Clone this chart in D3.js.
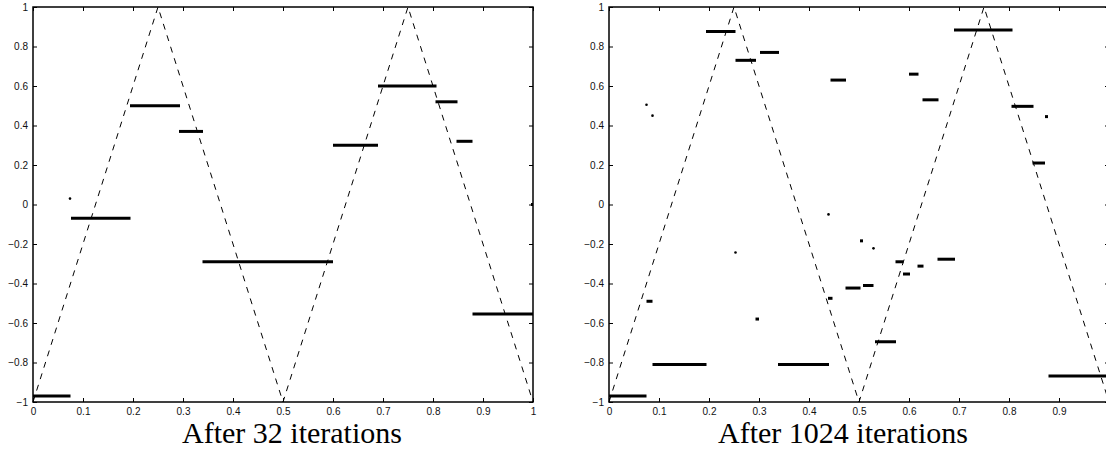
<!DOCTYPE html>
<html>
<head>
<meta charset="utf-8">
<script src="https://cdn.jsdelivr.net/npm/d3@7"></script>
<style>
  html, body { margin: 0; padding: 0; background: #fff; }
  svg { display: block; }
</style>
</head>
<body>
<svg id="chart" width="1106" height="451"></svg>
<script>
// ---- data ----
const xTicks1 = [0, 0.1, 0.2, 0.3, 0.4, 0.5, 0.6, 0.7, 0.8, 0.9, 1];
const xTicks2 = [0, 0.1, 0.2, 0.3, 0.4, 0.5, 0.6, 0.7, 0.8, 0.9];
const yTicks = [-1, -0.8, -0.6, -0.4, -0.2, 0, 0.2, 0.4, 0.6, 0.8, 1];

// dashed reference (triangle wave vertices)
const refX = [0, 0.25, 0.5, 0.75, 1];
const refY = [-1, 1, -1, 1, -1];

// panel 1: after 32 iterations
const p1Start = [0, 0.076, 0.194, 0.292, 0.339, 0.6, 0.69, 0.805, 0.847, 0.879, 0.996];
const p1End   = [0.075, 0.195, 0.294, 0.34, 0.6, 0.69, 0.807, 0.849, 0.879, 1.0, 1.0];
const p1Level = [-0.97, -0.07, 0.5, 0.37, -0.29, 0.30, 0.60, 0.52, 0.32, -0.555, 0.0];
const p1DotX = [0.074];
const p1DotY = [0.03];

// panel 2: after 1024 iterations
const p2Start = [0, 0.075, 0.087, 0.194, 0.253, 0.293, 0.302, 0.338, 0.438, 0.443, 0.473, 0.502, 0.508,
                 0.532, 0.573, 0.588, 0.6, 0.617, 0.627, 0.657, 0.69, 0.805, 0.847, 0.872, 0.879];
const p2End   = [0.075, 0.087, 0.195, 0.253, 0.294, 0.3, 0.34, 0.44, 0.447, 0.474, 0.503, 0.508, 0.529,
                 0.574, 0.589, 0.602, 0.619, 0.629, 0.659, 0.692, 0.807, 0.849, 0.872, 0.878, 1.0];
const p2Level = [-0.97, -0.49, -0.81, 0.876, 0.73, -0.58, 0.77, -0.81, -0.475, 0.63, -0.423, -0.184, -0.41,
                 -0.695, -0.29, -0.352, 0.66, -0.312, 0.53, -0.277, 0.883, 0.497, 0.21, 0.445, -0.868];
const p2DotX = [0.075, 0.087, 0.439, 0.253, 0.529];
const p2DotY = [0.505, 0.45, -0.05, -0.243, -0.222];

const titles = ["After 32 iterations", "After 1024 iterations"];

// ---- drawing ----
const svg = d3.select("#chart");
const fmt = v => (v === 0 ? "0" : d3.format("")(v)).replace("-", "\u2212");

const panels = [
  { x0: 33, x1: 533, xt: xTicks1, start: p1Start, end: p1End, level: p1Level, dx: p1DotX, dy: p1DotY, title: titles[0], tx: 182 },
  { x0: 609, x1: 1109, xt: xTicks2, start: p2Start, end: p2End, level: p2Level, dx: p2DotX, dy: p2DotY, title: titles[1], tx: 718 }
];

panels.forEach(p => {
  const x = d3.scaleLinear().domain([0, 1]).range([p.x0, p.x1]);
  const y = d3.scaleLinear().domain([-1, 1]).range([402, 7]);
  const g = svg.append("g");

  // dashed triangle wave
  const line = d3.line().x((d, i) => x(refX[i])).y((d, i) => y(refY[i]));
  g.append("path")
    .attr("d", line(refX))
    .attr("fill", "none")
    .attr("stroke", "#000")
    .attr("stroke-width", 1)
    .attr("stroke-dasharray", "6,6");

  // segments
  g.selectAll("line.seg").data(p.start).join("line")
    .attr("class", "seg")
    .attr("x1", (d, i) => x(p.start[i]))
    .attr("x2", (d, i) => x(p.end[i]))
    .attr("y1", (d, i) => y(p.level[i]))
    .attr("y2", (d, i) => y(p.level[i]))
    .attr("stroke", "#000")
    .attr("stroke-width", 3);

  // dots
  g.selectAll("circle.dot").data(p.dx).join("circle")
    .attr("class", "dot")
    .attr("cx", (d, i) => x(p.dx[i]))
    .attr("cy", (d, i) => y(p.dy[i]))
    .attr("r", 1.3)
    .attr("fill", "#000");

  // axes
  const styleAxis = sel => {
    sel.select(".domain").remove();
    sel.selectAll(".tick line").attr("stroke", "#000").attr("stroke-width", 1);
    sel.selectAll(".tick text").attr("fill", "#111")
      .style("font-family", "'Liberation Sans', Arial, sans-serif").style("font-size", "10px");
  };
  g.append("g").attr("transform", `translate(0,${y(-1)})`)
    .call(d3.axisBottom(x).tickValues(p.xt).tickFormat(fmt).tickSize(-4).tickSizeOuter(0).tickPadding(6))
    .call(styleAxis);
  g.append("g").attr("transform", `translate(0,${y(1)})`)
    .call(d3.axisTop(x).tickValues(p.xt).tickFormat("").tickSize(-4).tickSizeOuter(0))
    .call(styleAxis);
  g.append("g").attr("transform", `translate(${x(0)},0)`)
    .call(d3.axisLeft(y).tickValues(yTicks).tickFormat(fmt).tickSize(-4).tickSizeOuter(0).tickPadding(5))
    .call(styleAxis);
  g.append("g").attr("transform", `translate(${x(1)},0)`)
    .call(d3.axisRight(y).tickValues(yTicks).tickFormat("").tickSize(-4).tickSizeOuter(0))
    .call(styleAxis);

  // frame
  g.append("rect")
    .attr("x", x(0)).attr("y", y(1))
    .attr("width", x(1) - x(0)).attr("height", y(-1) - y(1))
    .attr("fill", "none").attr("stroke", "#000").attr("stroke-width", 1.5);

  // title
  g.append("text")
    .attr("x", p.tx).attr("y", 443)
    .attr("text-anchor", "start")
    .style("font-family", "'Liberation Serif', 'DejaVu Serif', serif")
    .style("font-size", "30px")
    .attr("fill", "#000")
    .text(p.title);
});
</script>
</body>
</html>
